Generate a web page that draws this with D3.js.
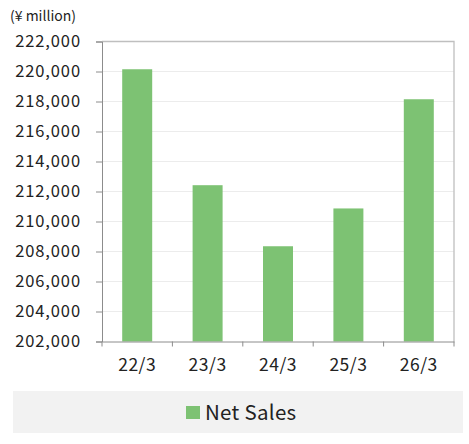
<!DOCTYPE html>
<html>
<head>
<meta charset="utf-8">
<script src="https://cdn.jsdelivr.net/npm/d3@7"></script>
<style>
  body { margin: 0; background: #fff; }
  text { font-family: "Noto Sans CJK JP", "Noto Sans", sans-serif; fill: #222; }
</style>
</head>
<body>
<div id="chart"></div>
<script>
var categories = ["22/3", "23/3", "24/3", "25/3", "26/3"];
var netSales = [220150, 212420, 208350, 210870, 218150];
var yTicks = [202000, 204000, 206000, 208000, 210000, 212000, 214000, 216000, 218000, 220000, 222000];
var seriesName = "Net Sales";
var unitLabel = "(¥ million)";

var barColor = "#7dc273";
var width = 469, height = 444;
var margin = { top: 41.5, right: 15, bottom: 102.5, left: 102 };

var svg = d3.select("#chart").append("svg")
  .attr("width", width)
  .attr("height", height);

var x = d3.scaleBand()
  .domain(categories)
  .range([margin.left, width - margin.right])
  .paddingInner(0.574)
  .paddingOuter(0.287);

var y = d3.scaleLinear()
  .domain([202000, 222000])
  .range([height - margin.bottom, margin.top]);

// gridlines
svg.append("g")
  .selectAll("line")
  .data(yTicks.slice(1, -1))
  .enter().append("line")
  .attr("x1", margin.left)
  .attr("x2", width - margin.right)
  .attr("y1", function(d) { return y(d); })
  .attr("y2", function(d) { return y(d); })
  .attr("stroke", "#ececec")
  .attr("stroke-width", 1);

// frame top + right
svg.append("path")
  .attr("d", "M" + margin.left + "," + margin.top + "H" + (width - margin.right) + "V" + (height - margin.bottom))
  .attr("fill", "none")
  .attr("stroke", "#bfbfbf")
  .attr("stroke-width", 1.3);

// bars
svg.append("g")
  .selectAll("rect")
  .data(netSales)
  .enter().append("rect")
  .attr("x", function(d, i) { return x(categories[i]); })
  .attr("width", x.bandwidth())
  .attr("y", function(d) { return y(d); })
  .attr("height", function(d) { return y(202000) - y(d); })
  .attr("fill", barColor);

// y axis
var yAxis = svg.append("g")
  .attr("transform", "translate(" + margin.left + ",0)")
  .call(d3.axisLeft(y).tickValues(yTicks).tickFormat(d3.format(",")).tickSize(6).tickPadding(15));
yAxis.select(".domain").attr("stroke", "#8c8c8c");
yAxis.selectAll(".tick line").attr("stroke", "#8c8c8c");
yAxis.selectAll("text")
  .style("font-size", "16.5px")
  .style("letter-spacing", "0.9px")
  .attr("fill", "#222");

// x axis with ticks at band boundaries
var xAxis = svg.append("g")
  .attr("transform", "translate(0," + (height - margin.bottom) + ")")
  .call(d3.axisBottom(x).tickSize(0).tickPadding(17));
xAxis.select(".domain").attr("stroke", "#8c8c8c");
xAxis.selectAll("text")
  .style("font-size", "17.5px")
  .style("letter-spacing", "0.5px")
  .attr("fill", "#222");
xAxis.selectAll(".bound")
  .data(d3.range(categories.length + 1))
  .enter().append("line")
  .attr("class", "bound")
  .attr("x1", function(i) { return margin.left + i * x.step(); })
  .attr("x2", function(i) { return margin.left + i * x.step(); })
  .attr("y1", 0)
  .attr("y2", 5)
  .attr("stroke", "#8c8c8c");

// unit label
svg.append("text")
  .attr("x", 10)
  .attr("y", 21)
  .style("font-size", "14px")
  .text(unitLabel);

// legend
var legend = svg.append("g");
legend.append("rect")
  .attr("x", 13).attr("y", 391)
  .attr("width", 450).attr("height", 42)
  .attr("fill", "#f2f2f2");
legend.append("rect")
  .attr("x", 186).attr("y", 406)
  .attr("width", 14).attr("height", 13)
  .attr("fill", barColor);
legend.append("text")
  .attr("x", 205)
  .attr("y", 419.5)
  .style("font-size", "20.5px")
  .style("letter-spacing", "0.3px")
  .text(seriesName);
</script>
</body>
</html>
